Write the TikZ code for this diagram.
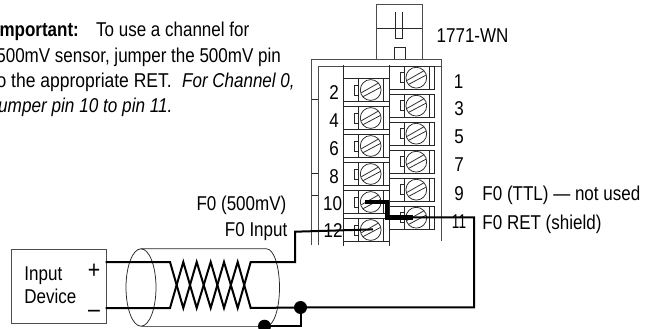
\documentclass[tikz,border=0pt]{standalone}
\usepackage{fontspec}
\setmainfont{Liberation Sans}
\begin{document}
\begin{tikzpicture}[x=1pt,y=-1pt,
  grayline/.style={draw=black!70,line width=1pt},
  thinline/.style={draw=black!85,line width=0.75pt},
  wire/.style={draw=black,line width=2pt},
  jumper/.style={draw=black,line width=4.4pt},
  lbl/.style={inner sep=0pt,anchor=base,font=\fontsize{20}{22}\selectfont,text=black,xscale=0.85},
  note/.style={inner sep=0pt,font=\fontsize{20}{22}\selectfont,text=black,xscale=0.85},
  dotn/.style={circle,fill=black,inner sep=0pt,minimum size=13pt}
]
\useasboundingbox (0,0) rectangle (659,329);
\clip (0,0) rectangle (659,329);
% device top box
\draw[grayline] (376.7,59.3) -- (376.7,4.7) -- (422,4.7) -- (422,59.3);
\draw[thinline] (376.7,28.7) -- (422,28.7);
\draw[thinline] (394,59.3) -- (394,47) -- (405,47) -- (405,59.3);
\draw[thinline] (395.3,12.3) -- (395.3,38.4) -- (402.7,38.4) -- (402.7,12.3);
% block frame
\draw[grayline] (311.7,245) -- (311.7,59.3) -- (441,59.3) -- (441,241);
\draw[grayline] (318.3,245) -- (318.3,67) -- (441,67);
\draw[thinline] (311.7,99.3) -- (318.3,99.3);
\draw[thinline] (311.7,173.3) -- (318.3,173.3);
\draw[thinline] (311.7,195) -- (318.3,195);
\draw[thinline] (343.5,65) -- (343.5,246);
\draw[thinline] (389.3,65) -- (389.3,246);
% left terminals
\foreach \y in {90,118,146,174,202,230}{
  \draw[thinline] (343.5,\y-11.7) rectangle (389.3,\y+11.7);
  \draw[thinline] (358.5,\y-11.7) -- (358.5,\y+11.7);
  \draw[thinline] (383.3,\y-11.7) -- (383.3,\y+11.7);
  \draw[thinline] (354.3,\y-5) rectangle (358.3,\y+5);
  \draw[thinline,fill=white] (370.7,\y) circle (10.4);
  \draw[thinline] (361.4,\y+2.7) -- (378,\y-6.7);
  \draw[thinline] (363,\y+6.7) -- (380.7,\y-2.7);
}
% right terminals
\foreach \y in {77.7,105.7,133.7,161.7,189.7,217.7}{
  \draw[thinline] (389.3,\y-11.3) -- (434,\y-11.3) -- (434,\y+11.3) -- (389.3,\y+11.3);
  \draw[thinline] (404.7,\y-11.3) -- (404.7,\y+11.3);
  \draw[thinline] (429,\y-11.3) -- (429,\y+11.3);
  \draw[thinline] (400.3,\y-5) rectangle (404.3,\y+5);
  \draw[thinline,fill=white] (416.3,\y) circle (10.4);
  \draw[thinline] (407,\y+2.7) -- (423.6,\y-6.7);
  \draw[thinline] (408.6,\y+6.7) -- (426.3,\y-2.7);
}
% numbers
\node[lbl] (n1) at (458.5,88.3) {1};
\node[lbl] (n3) at (459,115.9) {3};
\node[lbl] (n5) at (459,143.5) {5};
\node[lbl] (n7) at (459,171.7) {7};
\node[lbl] (n9) at (459,200) {9};
\node[lbl] (n2) at (334,99.3) {2};
\node[lbl] (n4) at (334,127.3) {4};
\node[lbl] (n6) at (334,155.3) {6};
\node[lbl] (n8) at (334,183.3) {8};
\node[lbl] (n10) at (332.5,210) {10};
\node[lbl] (n12) at (333,237.5) {12};
\node[lbl,xscale=0.8] (n11) at (459,228.3) {11};
\node[lbl,anchor=base west] (t1771) at (436.5,42.7) {1771-WN};
\node[lbl,anchor=base west] (ttl) at (482.3,200.7) {F0 (TTL) — not used};
\node[lbl,anchor=base west] (ret) at (482.3,229.3) {F0 RET (shield)};
\node[lbl,anchor=base east] (mv) at (286.5,210) {F0 (500mV)};
\node[lbl,anchor=base east] (fin) at (287.5,236.7) {F0 Input};
% note
\node[note,anchor=base east] (l1a) at (79,37) {\textbf{Important:}};
\node[note,anchor=base west] (l1b) at (96,37) {To use a channel for};
\node[note,anchor=base east] (l2) at (281,62.5) {500mV sensor, jumper the 500mV pin};
\node[note,anchor=base east,xscale=1.03] (l3a) at (172,87.7) {to the appropriate RET.};
\node[note,anchor=base west] (l3b) at (182,87.7) {\textit{For Channel 0,}};
\node[note,anchor=base east,xscale=1.01] (l4) at (172.7,112.7) {\textit{jumper pin 10 to pin 11.}};
% input device
\node[draw=black!70,line width=0.9pt,minimum width=94.7pt,minimum height=74pt,inner sep=0pt,anchor=north west] (dev) at (11,249) {};
\node[lbl,anchor=base west] (dt1) at (24.3,280.7) {Input};
\node[lbl,anchor=base west] (dt2) at (24.3,303) {Device};
\node[lbl,font=\fontsize{25}{25}\selectfont,xscale=1] (plus) at (94,278.5) {+};
\node[lbl,font=\fontsize{25}{25}\selectfont,xscale=1] (minus) at (94,317.5) {–};
% cable
\draw[thinline] (141,287.5) ellipse (15 and 38.7);
\draw[thinline] (141,248.8) -- (266.5,248.8) .. controls (273.7,248.8) and (279.5,266.1) .. (279.5,287.5) .. controls (279.5,308.9) and (273.7,326.2) .. (266.5,326.2);
\draw[draw=black!60,line width=1.2pt] (141,326.2) -- (264,326.2);
% wires
\coordinate (pa) at (105.7,262);
\coordinate (pb) at (105.7,308);
\coordinate (s12) at (373,229.4);
\coordinate (s11) at (413,217.4);
\coordinate (s10) at (365,201.7);
\coordinate (c1) at (474,217.4);
\coordinate (c2) at (474,307.3);
\coordinate (j1) at (300.5,307.5);
\coordinate (j2) at (264.5,326.2);
\draw[wire,line join=miter] (pa) -- (170,262)
  -- (183.3,308) -- (196.7,262) -- (210.7,308) -- (224,262) -- (237.7,308) -- (250.7,262) -- (295,262) -- (295,231.7) -- (s12);
\draw[wire,line join=miter] (pb) -- (170,308)
  -- (183.3,262) -- (196.7,308) -- (210.7,262) -- (224,308) -- (237.7,262) -- (250.7,308) -- (j1);
\draw[wire] (s11) -- (c1) -- (c2) -- (j1);
\draw[wire] (j1) -- (300.5,326.2) -- (j2);
\draw[jumper,line join=miter] (s10) -- (386.7,201.7) -- (386.7,217.4) -- (s11);
\node[dotn] (d1) at (j1) {};
\node[dotn] (d2) at (j2) {};
\end{tikzpicture}
\end{document}
